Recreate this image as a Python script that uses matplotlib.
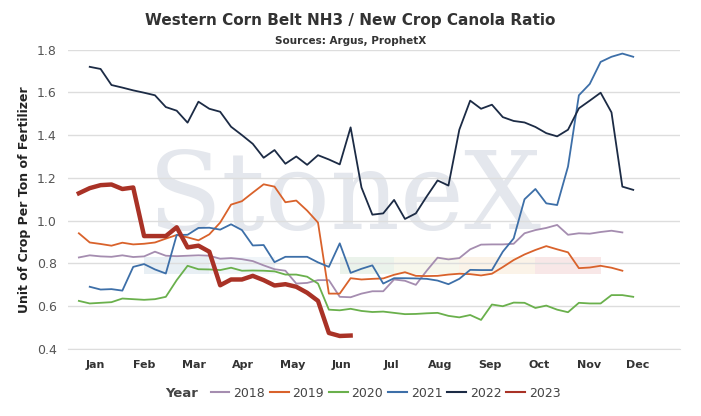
import numpy as np
import matplotlib.pyplot as plt
from typing import Dict, List


def build_series() -> Dict[str, List[float]]:
    """
    Weekly NH3 / new crop canola ratios read off the reference chart.

    Returns:
        Dict[str, List[float]]: Ratio values per year, in week order.
    """
    return {
        "2018": [0.828, 0.838, 0.833, 0.831, 0.838, 0.830, 0.833, 0.855, 0.836, 0.834, 0.836,
                 0.838, 0.836, 0.822, 0.825, 0.820, 0.811, 0.791, 0.773, 0.766, 0.706, 0.709,
                 0.722, 0.722, 0.644, 0.642, 0.659, 0.670, 0.670, 0.725, 0.719, 0.700, 0.766,
                 0.827, 0.819, 0.825, 0.866, 0.888, 0.889, 0.889, 0.892, 0.941, 0.956, 0.966,
                 0.980, 0.934, 0.941, 0.939, 0.947, 0.953, 0.945],
        "2019": [0.941, 0.898, 0.891, 0.883, 0.897, 0.889, 0.892, 0.898, 0.916, 0.933, 0.922,
                 0.908, 0.936, 0.991, 1.075, 1.091, 1.131, 1.170, 1.159, 1.086, 1.094, 1.047,
                 0.991, 0.659, 0.659, 0.731, 0.725, 0.728, 0.730, 0.747, 0.759, 0.742, 0.741,
                 0.742, 0.748, 0.752, 0.750, 0.744, 0.752, 0.783, 0.816, 0.842, 0.863, 0.881,
                 0.866, 0.852, 0.778, 0.781, 0.789, 0.780, 0.766],
        "2020": [0.625, 0.613, 0.616, 0.619, 0.636, 0.633, 0.630, 0.633, 0.644, 0.722, 0.789,
                 0.773, 0.772, 0.769, 0.780, 0.766, 0.767, 0.766, 0.763, 0.748, 0.748, 0.738,
                 0.706, 0.584, 0.581, 0.588, 0.578, 0.573, 0.575, 0.569, 0.563, 0.564, 0.567,
                 0.569, 0.555, 0.548, 0.559, 0.536, 0.608, 0.600, 0.617, 0.616, 0.592, 0.603,
                 0.584, 0.572, 0.616, 0.613, 0.613, 0.652, 0.652, 0.644],
        "2021": [np.nan, 0.691, 0.678, 0.680, 0.673, 0.784, 0.797, 0.772, 0.753, 0.933, 0.934,
                 0.966, 0.967, 0.958, 0.983, 0.956, 0.884, 0.886, 0.806, 0.831, 0.831, 0.831,
                 0.805, 0.784, 0.894, 0.756, 0.775, 0.791, 0.706, 0.731, 0.731, 0.730, 0.728,
                 0.720, 0.703, 0.728, 0.770, 0.769, 0.769, 0.855, 0.917, 1.100, 1.148, 1.081,
                 1.073, 1.253, 1.586, 1.639, 1.742, 1.766, 1.781, 1.766],
        "2022": [np.nan, 1.719, 1.709, 1.634, 1.622, 1.609, 1.598, 1.586, 1.531, 1.514, 1.458,
                 1.556, 1.523, 1.509, 1.439, 1.400, 1.359, 1.294, 1.330, 1.266, 1.300, 1.261,
                 1.306, 1.286, 1.263, 1.436, 1.155, 1.028, 1.034, 1.097, 1.008, 1.034, 1.113,
                 1.188, 1.164, 1.425, 1.561, 1.523, 1.542, 1.484, 1.466, 1.459, 1.438, 1.409,
                 1.394, 1.425, 1.525, 1.561, 1.598, 1.506, 1.159, 1.144],
        "2023": [1.128, 1.152, 1.166, 1.169, 1.148, 1.155, 0.928, 0.928, 0.928, 0.969, 0.875,
                 0.883, 0.855, 0.698, 0.725, 0.725, 0.742, 0.722, 0.697, 0.703, 0.691, 0.663,
                 0.625, 0.475, 0.461, 0.463],
    }


def main() -> None:
    """
    Draw the seasonal ratio chart and save it as out.png.
    """
    series = build_series()
    colors = {"2018": "#a58db0", "2019": "#d9622b", "2020": "#6ab04c",
              "2021": "#3d6fa8", "2022": "#1c2b45", "2023": "#a93226"}
    months = ["Jan", "Feb", "Mar", "Apr", "May", "Jun", "Jul", "Aug", "Sep", "Oct", "Nov", "Dec"]

    fig = plt.figure(figsize=(7.01, 4.16), dpi=100)
    ax = fig.add_axes([0.097, 0.161, 0.873, 0.72])

    # Watermark and faint coloured bands behind the lines
    ax.text(24.5, 1.1, "StoneX", fontsize=78, family="DejaVu Serif", color="#e4e7ed",
            ha="center", va="center", zorder=0)
    for x0, x1, c in [(6, 12, "#e3ebf2"), (12, 18, "#edf3f8"), (24, 29, "#e6f0e6"),
                      (29, 35, "#f6f6e8"), (35, 42, "#fbf1e3"), (42, 48, "#f7e2e2")]:
        ax.fill_between([x0, x1], 0.75, 0.83, color=c, alpha=0.8, zorder=0, lw=0)

    for year, values in series.items():
        weeks = np.arange(len(values))
        lw = 3.2 if year == "2023" else 1.3
        ax.plot(weeks, values, color=colors[year], lw=lw, label=year, zorder=3)

    ax.set_xlim(-1, 55.3)
    ax.set_ylim(0.4, 1.8)
    ax.set_yticks(np.arange(0.4, 1.81, 0.2))
    ax.set_yticklabels([f"{v:.1f}" for v in np.arange(0.4, 1.81, 0.2)], color="#555555", fontsize=9)
    ax.set_xticks(1.5 + 4.54 * np.arange(12))
    ax.set_xticklabels(months, fontsize=8, fontweight="bold", color="#333333")
    ax.tick_params(length=0, pad=8)
    ax.grid(axis="y", color="#dddddd", lw=1)
    for side in ["top", "right", "left"]:
        ax.spines[side].set_visible(False)
    ax.spines["bottom"].set_color("#dddddd")
    ax.set_ylabel("Unit of Crop Per Ton of Fertilizer", fontsize=9, fontweight="bold", color="#222222")

    fig.text(0.5, 0.94, "Western Corn Belt NH3 / New Crop Canola Ratio", ha="center",
             fontsize=11, fontweight="bold", color="#333333")
    fig.text(0.5, 0.895, "Sources: Argus, ProphetX", ha="center", fontsize=7.5,
             fontweight="bold", color="#333333")

    # Legend entries in one row, with "Year" as a bold label on their left
    fig.text(0.235, 0.055, "Year", ha="left", va="center", fontsize=9.5,
             fontweight="bold", color="#444444")
    leg = fig.legend(loc="center", bbox_to_anchor=(0.55, 0.055), ncol=6, frameon=False,
                     fontsize=9, handlelength=1.5, columnspacing=0.4, handletextpad=0.3)
    for line in leg.get_lines():
        line.set_linewidth(1.5)
    for text in leg.get_texts():
        text.set_color("#444444")

    fig.savefig("out.png", dpi=100)


if __name__ == "__main__":
    main()
